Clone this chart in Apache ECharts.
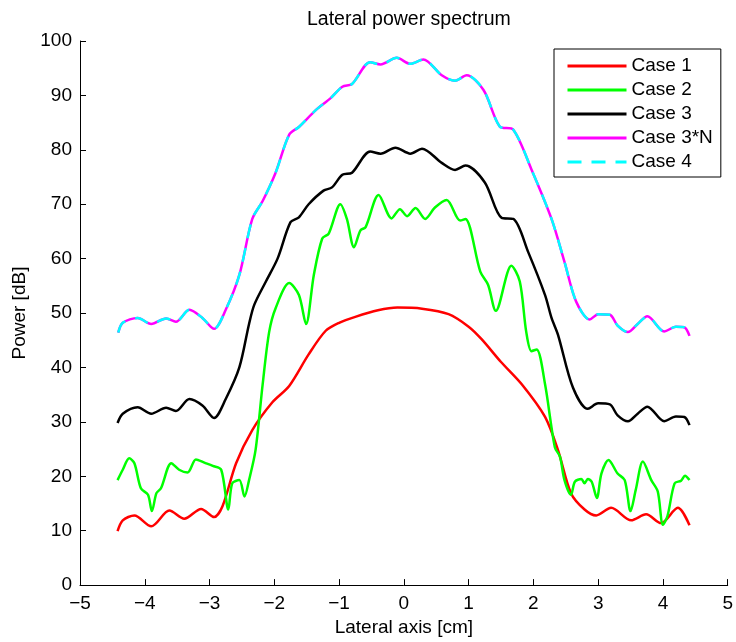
<!DOCTYPE html>
<html>
<head>
<meta charset="utf-8">
<title>Lateral power spectrum</title>
<script src="https://cdn.jsdelivr.net/npm/echarts@6/dist/echarts.min.js"></script>
<style>
  html, body { margin: 0; padding: 0; background: #fff; }
  #chart { width: 736px; height: 642px; }
</style>
</head>
<body>
<div id="chart"></div>
<script>
// values (x in cm, power in dB)
var case1X = [-4.42, -4.34, -4.16, -3.90, -3.62, -3.39, -3.13, -2.93, -2.80, -2.59, -2.34, -2.03, -1.77, -1.47, -1.21, -1.0, -0.75, -0.4, -0.1, 0.28, 0.69, 1.0, 1.2, 1.5, 1.82, 2.18, 2.38, 2.58, 2.79, 2.97, 3.20, 3.51, 3.74, 3.97, 4.23, 4.41];
var case1Y = [9.9, 11.9, 12.8, 10.8, 13.7, 12.2, 14.0, 12.5, 14.5, 22.4, 28.5, 33.6, 36.6, 42.4, 46.7, 48.2, 49.3, 50.5, 51.0, 50.8, 49.8, 47.5, 45.2, 41.0, 36.9, 30.9, 24.8, 16.9, 13.9, 12.8, 14.2, 11.9, 13.0, 11.4, 14.2, 11.0];

var case2X = [-4.42, -4.34, -4.24, -4.16, -4.06, -3.95, -3.89, -3.82, -3.75, -3.59, -3.47, -3.34, -3.21, -3.08, -2.95, -2.82, -2.71, -2.65, -2.54, -2.46, -2.39, -2.29, -2.18, -2.08, -1.98, -1.77, -1.62, -1.51, -1.39, -1.26, -1.16, -0.98, -0.88, -0.77, -0.67, -0.59, -0.39, -0.19, -0.06, 0.05, 0.18, 0.33, 0.48, 0.66, 0.87, 0.95, 1.18, 1.30, 1.42, 1.66, 1.79, 1.89, 1.97, 2.05, 2.18, 2.33, 2.41, 2.48, 2.58, 2.64, 2.74, 2.79, 2.84, 2.90, 2.98, 3.05, 3.16, 3.30, 3.41, 3.50, 3.58, 3.69, 3.82, 3.92, 4.00, 4.07, 4.18, 4.28, 4.34, 4.41];
var case2Y = [19.3, 21.2, 23.3, 22.4, 17.8, 16.6, 13.6, 16.9, 17.8, 22.4, 21.2, 20.7, 23.1, 22.5, 21.9, 21.2, 13.9, 18.7, 19.3, 16.3, 19.3, 24.8, 36.9, 46.5, 50.9, 55.5, 53.3, 48.0, 57.0, 63.7, 64.6, 70.0, 67.3, 62.1, 65.2, 65.8, 71.7, 67.4, 69.1, 67.8, 69.3, 67.3, 69.4, 70.8, 67.0, 67.3, 57.6, 55.2, 50.4, 58.7, 55.8, 46.5, 43.0, 43.3, 36.9, 25.4, 23.6, 19.3, 16.6, 19.0, 19.5, 18.7, 19.5, 19.0, 16.0, 20.5, 23.0, 20.5, 19.3, 13.6, 17.5, 22.7, 19.3, 17.2, 11.1, 12.7, 18.7, 19.2, 20.1, 19.3];

var case3X = [-4.42, -4.34, -4.11, -3.90, -3.67, -3.52, -3.31, -3.11, -2.93, -2.75, -2.54, -2.39, -2.31, -2.13, -1.95, -1.75, -1.62, -1.47, -1.24, -1.11, -0.95, -0.80, -0.52, -0.36, -0.13, 0.10, 0.28, 0.585, 0.79, 0.95, 1.25, 1.51, 1.69, 1.92, 2.18, 2.28, 2.38, 2.61, 2.84, 3.00, 3.18, 3.30, 3.46, 3.61, 3.76, 4.02, 4.20, 4.33, 4.41];
var case3Y = [29.8, 31.5, 32.7, 31.5, 32.6, 32.0, 34.2, 33.0, 30.7, 34.2, 40.0, 48.0, 51.5, 55.8, 60.0, 66.7, 67.6, 70.0, 72.5, 73.1, 75.4, 75.8, 79.7, 79.3, 80.4, 79.3, 80.2, 77.6, 76.3, 77.1, 74.0, 67.5, 67.3, 61.2, 53.3, 49.1, 46.0, 36.3, 32.4, 33.4, 33.2, 31.2, 30.1, 31.5, 32.8, 30.1, 31.0, 30.9, 29.4];

var case3NX = [-4.41, -4.34, -4.11, -3.90, -3.67, -3.52, -3.31, -3.11, -2.93, -2.75, -2.54, -2.34, -2.18, -1.98, -1.77, -1.62, -1.36, -1.13, -0.95, -0.80, -0.52, -0.36, -0.11, 0.10, 0.30, 0.585, 0.79, 0.97, 1.23, 1.48, 1.69, 1.97, 2.28, 2.48, 2.66, 2.87, 3.00, 3.18, 3.30, 3.46, 3.61, 3.76, 4.02, 4.20, 4.33, 4.41];
var case3NY = [46.4, 48.2, 49.1, 48.0, 49.0, 48.4, 50.6, 49.1, 47.1, 50.6, 57.0, 67.3, 70.6, 75.8, 82.8, 84.2, 87.3, 89.5, 91.6, 92.1, 96.1, 95.7, 96.9, 95.8, 96.6, 93.7, 92.7, 93.7, 91.0, 84.3, 83.7, 76.4, 67.3, 59.4, 52.1, 48.8, 49.8, 49.7, 47.7, 46.5, 48.0, 49.4, 46.6, 47.5, 47.4, 45.8];

// Case 4 lies on top of Case 3*N in the picture
var case4X = case3NX;
var case4Y = case3NY;

var xTicks = { min: -5, max: 5, step: 1 };
var yTicks = { min: 0, max: 100, step: 10 };

function pairs(xs, ys) {
  return xs.map(function (x, i) { return [x, ys[i]]; });
}

var font = 'Liberation Sans, Arial, Helvetica, sans-serif';
var lw = 2.5;

var myChart = echarts.init(document.getElementById('chart'));
var option = {
  animation: false,
  backgroundColor: '#fff',
  textStyle: { fontFamily: font, color: '#000' },
  title: {
    text: 'Lateral power spectrum',
    left: 302,
    top: 5,
    textStyle: { fontFamily: font, fontSize: 19.5, fontWeight: 'normal', color: '#000' }
  },
  legend: {
    orient: 'vertical',
    left: 554,
    top: 49,
    padding: [7, 8, 5, 12],
    itemWidth: 59,
    itemHeight: 14,
    itemGap: 4,
    borderColor: '#000',
    borderWidth: 1,
    backgroundColor: '#fff',
    itemStyle: { opacity: 0 },
    lineStyle: { width: 3 },
    textStyle: { fontFamily: font, fontSize: 19, color: '#000', lineHeight: 20 },
    data: ['Case 1', 'Case 2', 'Case 3', 'Case 3*N', 'Case 4']
  },
  grid: { left: 80, right: 5.5, top: 41, bottom: 52.5 },
  xAxis: {
    type: 'value',
    min: xTicks.min,
    max: xTicks.max,
    interval: xTicks.step,
    name: 'Lateral axis [cm]',
    nameLocation: 'middle',
    nameGap: 31,
    nameTextStyle: { fontFamily: font, fontSize: 19, color: '#000' },
    axisLine: { onZero: false, lineStyle: { color: '#000', width: 1 } },
    axisTick: { inside: true, length: 6, lineStyle: { color: '#000' } },
    axisLabel: {
      fontFamily: font, fontSize: 19, color: '#000', margin: 9,
      formatter: function (v) { return String(v).replace('-', '\u2212'); }
    },
    splitLine: { show: false }
  },
  yAxis: {
    type: 'value',
    min: yTicks.min,
    max: yTicks.max,
    interval: yTicks.step,
    name: 'Power [dB]',
    nameLocation: 'middle',
    nameGap: 44,
    nameTextStyle: { fontFamily: font, fontSize: 19, color: '#000' },
    axisLine: { show: true, onZero: false, lineStyle: { color: '#000', width: 1 } },
    axisTick: { show: true, inside: true, length: 6, lineStyle: { color: '#000' } },
    axisLabel: { fontFamily: font, fontSize: 19, color: '#000', margin: 8 },
    splitLine: { show: false }
  },
  series: [
    {
      name: 'Case 1', type: 'line', symbol: 'none', smooth: 0.3,
      data: pairs(case1X, case1Y),
      itemStyle: { color: '#ff0000' },
      lineStyle: { color: '#ff0000', width: lw }
    },
    {
      name: 'Case 2', type: 'line', symbol: 'none', smooth: 0.3,
      data: pairs(case2X, case2Y),
      itemStyle: { color: '#00ff00' },
      lineStyle: { color: '#00ff00', width: lw }
    },
    {
      name: 'Case 3', type: 'line', symbol: 'none', smooth: 0.3,
      data: pairs(case3X, case3Y),
      itemStyle: { color: '#000000' },
      lineStyle: { color: '#000000', width: lw }
    },
    {
      name: 'Case 3*N', type: 'line', symbol: 'none', smooth: 0.3,
      data: pairs(case3NX, case3NY),
      itemStyle: { color: '#ff00ff' },
      lineStyle: { color: '#ff00ff', width: lw }
    },
    {
      name: 'Case 4', type: 'line', symbol: 'none', smooth: 0.3,
      data: pairs(case4X, case4Y),
      itemStyle: { color: '#00ffff' },
      lineStyle: { color: '#00ffff', width: lw, type: [14, 10] }
    }
  ]
};
myChart.setOption(option);
</script>
</body>
</html>
